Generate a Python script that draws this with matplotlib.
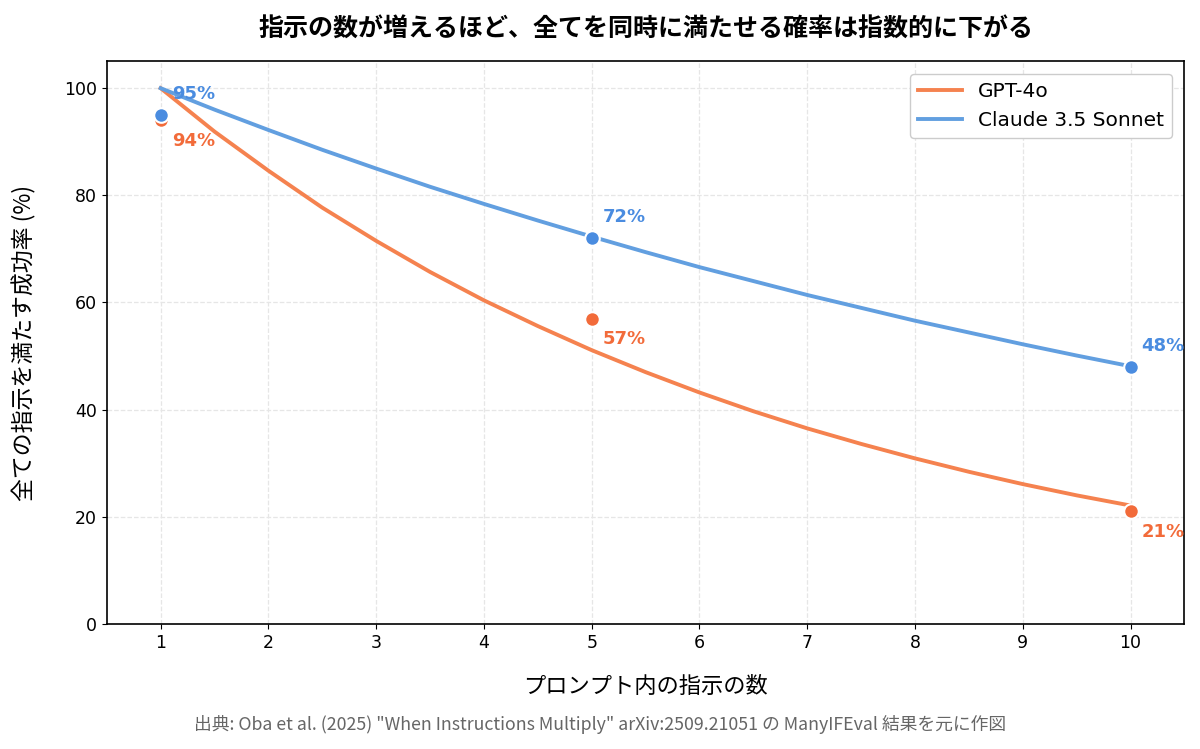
import matplotlib
matplotlib.use("Agg")
from matplotlib import pyplot as plt

plt.rcParams['font.family'] = ['DejaVu Sans', 'Noto Sans CJK JP']

# model curve values at each half step
n_curve = [1, 1.5, 2, 2.5, 3, 3.5, 4, 4.5, 5, 5.5, 6, 6.5, 7, 7.5, 8, 8.5, 9, 9.5, 10]
gpt_curve = [100, 91.9, 84.6, 77.7, 71.5, 65.7, 60.4, 55.6, 51.1, 47.0,
             43.2, 39.7, 36.5, 33.6, 30.9, 28.4, 26.1, 24.0, 22.1]
claude_curve = [100, 96.0, 92.2, 88.5, 85.0, 81.6, 78.4, 75.3, 72.3, 69.4,
                66.6, 64.0, 61.4, 59.0, 56.6, 54.4, 52.2, 50.1, 48.1]

# measured points
n_points = [1, 5, 10]
gpt_points = [94, 57, 21]
claude_points = [95, 72, 48]

gpt_line = '#F5824F'
gpt_dot = '#F26B3A'
claude_line = '#629FE0'
claude_dot = '#4A8CE0'
jp = ['Noto Sans CJK JP', 'DejaVu Sans']

fig, ax = plt.subplots(figsize=(12, 7.49), dpi=100)
fig.subplots_adjust(left=0.089, right=0.987, top=0.918, bottom=0.167)

ax.plot(n_curve, gpt_curve, color=gpt_line, lw=2.8, label='GPT-4o', zorder=3)
ax.plot(n_curve, claude_curve, color=claude_line, lw=2.8, label='Claude 3.5 Sonnet', zorder=3)
ax.scatter(n_points, gpt_points, s=110, color=gpt_dot, edgecolor='white', linewidth=1.5, zorder=4)
ax.scatter(n_points, claude_points, s=110, color=claude_dot, edgecolor='white', linewidth=1.5, zorder=5)

for x, y in zip(n_points, gpt_points):
    ax.annotate(f'{y}%', (x, y), xytext=(8, -15), textcoords='offset points',
                ha='left', va='center', fontsize=13, fontweight='bold', color=gpt_dot)
for x, y in zip(n_points, claude_points):
    ax.annotate(f'{y}%', (x, y), xytext=(8, 15), textcoords='offset points',
                ha='left', va='center', fontsize=13, fontweight='bold', color=claude_dot)

ax.set_xlim(0.5, 10.5)
ax.set_ylim(0, 105)
ax.set_xticks(range(1, 11))
ax.set_yticks([0, 20, 40, 60, 80, 100])
ax.tick_params(labelsize=12.5)
ax.grid(True, linestyle='--', color='#e6e6e6', linewidth=0.9)
ax.set_axisbelow(True)
for s in ax.spines.values():
    s.set_linewidth(1.2)

ax.set_xlabel('プロンプト内の指示の数', fontsize=16, labelpad=17, family=jp)
ax.set_ylabel('全ての指示を満たす成功率 (%)', fontsize=16.5, labelpad=20, family=jp)
ax.set_title('指示の数が増えるほど、全てを同時に満たせる確率は指数的に下がる',
             fontsize=18, fontweight='bold', pad=18, family=jp)

ax.legend(loc='upper right', fontsize=14.5, framealpha=1, edgecolor='#cccccc',
          handlelength=2.2, borderaxespad=0.6)

fig.text(0.5, 0.026, '出典: Oba et al. (2025) "When Instructions Multiply" arXiv:2509.21051 の ManyIFEval 結果を元に作図',
         ha='center', fontsize=12.8, color='#666666', family=jp)

fig.savefig('out.png')
